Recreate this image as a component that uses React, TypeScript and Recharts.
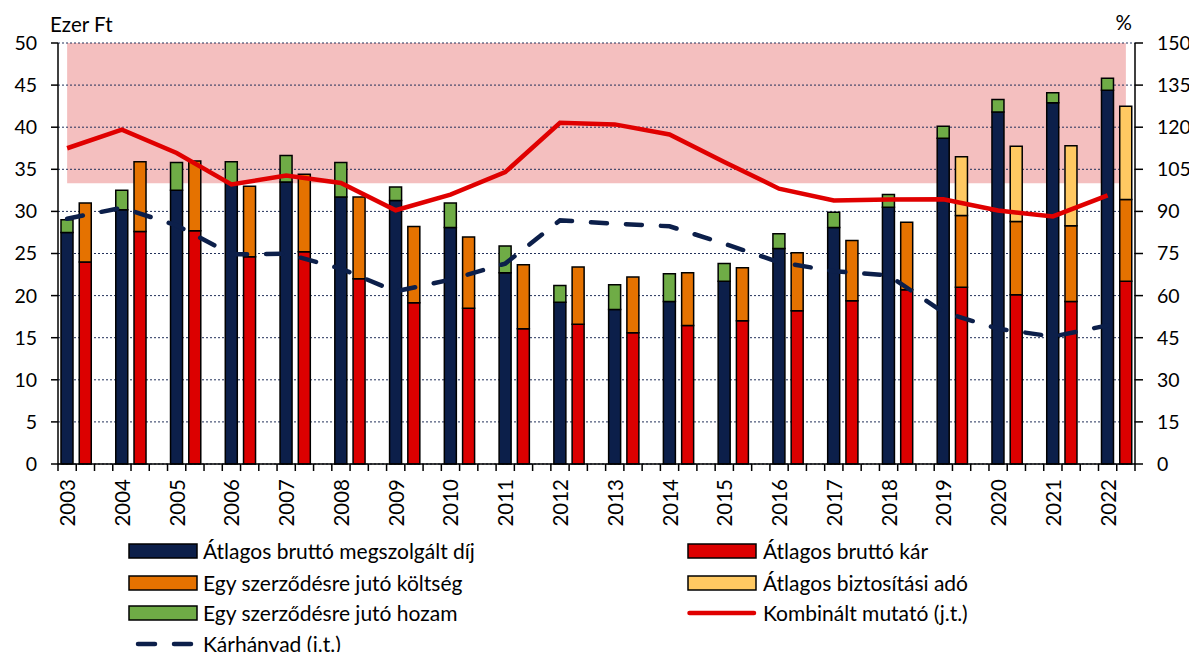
import React from 'react';
import { ComposedChart, Bar, Line, Area, XAxis, YAxis, CartesianGrid, Legend, Label } from 'recharts';

const years = ['2003','2004','2005','2006','2007','2008','2009','2010','2011','2012','2013','2014','2015','2016','2017','2018','2019','2020','2021','2022'];
// Ezer Ft (left axis)
const premium = [27.5, 30.2, 32.5, 33.4, 33.5, 31.7, 31.3, 28.1, 22.7, 19.2, 18.35, 19.3, 21.7, 25.6, 28.1, 30.5, 38.7, 41.8, 42.9, 44.4];
const yieldPer = [1.5, 2.3, 3.3, 2.5, 3.15, 4.1, 1.6, 2.9, 3.2, 2.0, 2.95, 3.3, 2.1, 1.75, 1.8, 1.5, 1.4, 1.5, 1.2, 1.4];
const claims = [24.0, 27.6, 27.7, 24.6, 25.2, 22.0, 19.15, 18.5, 16.05, 16.6, 15.6, 16.45, 17.0, 18.2, 19.4, 20.7, 21.0, 20.1, 19.3, 21.7];
const cost = [7.0, 8.3, 8.3, 8.4, 9.2, 9.7, 9.05, 8.45, 7.6, 6.8, 6.6, 6.25, 6.3, 6.9, 7.15, 8.0, 8.5, 8.7, 9.0, 9.7];
const tax = [0, 0, 0, 0, 0, 0, 0, 0, 0, 0, 0, 0, 0, 0, 0, 0, 7.0, 8.95, 9.5, 11.1];
// % (right axis)
const combined = [112.5, 119.1, 110.8, 99.6, 102.8, 100.1, 90.4, 96.0, 104.0, 121.6, 121.0, 117.4, 107.6, 98.1, 93.9, 94.2, 94.3, 90.3, 88.2, 95.7];
const lossRatio = [87.4, 91.3, 85.0, 74.7, 74.9, 69.6, 61.5, 65.7, 71.4, 86.8, 85.6, 84.7, 78.5, 71.9, 68.7, 67.2, 54.1, 48.2, 45.4, 49.4];
const bandRange = [100, 150];

const leftTicks = [0, 5, 10, 15, 20, 25, 30, 35, 40, 45, 50];
const rightTicks = [0, 15, 30, 45, 60, 75, 90, 105, 120, 135, 150];

const NAVY = '#0C1F4A';
const RED = '#DC0000';
const ORANGE = '#E57200';
const YELLOW = '#FFC962';
const GREEN = '#6FAC46';
const LINE_RED = '#E00000';
const PINK = '#F4BFBF';
const FONT = 'Lato, sans-serif';
const FS = 19.5;
const FS_X = 20.5;
const FS_LEG = 21;

const names = {
  premium: 'Átlagos bruttó megszolgált díj',
  claims: 'Átlagos bruttó kár',
  cost: 'Egy szerződésre jutó költség',
  tax: 'Átlagos biztosítási adó',
  yieldPer: 'Egy szerződésre jutó hozam',
  combined: 'Kombinált mutató (j.t.)',
  loss: 'Kárhányad (j.t.)',
};

type Row = { [k: string]: any };
const rows: Row[] = [];
years.forEach((y, i) => {
  rows.push({ key: y, label: y, premium: premium[i], yieldPer: yieldPer[i], claims: 0, cost: 0, tax: 0, combined: combined[i], loss: lossRatio[i], band: bandRange });
  rows.push({ key: y + 'b', label: '', premium: 0, yieldPer: 0, claims: claims[i], cost: cost[i], tax: tax[i], combined: null, loss: null, band: bandRange });
  if (i < years.length - 1) {
    rows.push({ key: y + 'c', label: '', premium: 0, yieldPer: 0, claims: 0, cost: 0, tax: 0, combined: null, loss: null, band: bandRange });
  }
});

const CHART_W = 1189;
const CHART_H = 644;
const LEFT_W = 50;
const RIGHT_W = 62;
const PLOT_W = CHART_W - LEFT_W - RIGHT_W;
const BAND = PLOT_W / rows.length;

const XTick = (props: any) => {
  const { x, y, payload } = props;
  const idx = payload?.index ?? props.index ?? 0;
  const half = BAND / 2;
  const row = rows[idx];
  const isLast = idx === rows.length - 1;
  return (
    <g>
      <line x1={x - half} x2={x - half} y1={y} y2={y + 7} stroke="#000" strokeWidth={1.5} />
      {isLast && <line x1={x + half} x2={x + half} y1={y} y2={y + 7} stroke="#000" strokeWidth={1.5} />}
      {row && row.label ? (
        <text
          transform={`translate(${x},${y + 15}) rotate(-90)`}
          textAnchor="end"
          dominantBaseline="central"
          fontFamily={FONT}
          fontSize={FS_X}
          fill="#000"
        >
          {row.label}
        </text>
      ) : null}
    </g>
  );
};

const legendItems = [
  { name: names.premium, color: NAVY, kind: 'rect', col: 0, row: 0 },
  { name: names.cost, color: ORANGE, kind: 'rect', col: 0, row: 1 },
  { name: names.yieldPer, color: GREEN, kind: 'rect', col: 0, row: 2 },
  { name: names.loss, color: NAVY, kind: 'dash', col: 0, row: 3 },
  { name: names.claims, color: RED, kind: 'rect', col: 1, row: 0 },
  { name: names.tax, color: YELLOW, kind: 'rect', col: 1, row: 1 },
  { name: names.combined, color: LINE_RED, kind: 'line', col: 1, row: 2 },
];

const LegendContent = () => {
  const colSwatch = [120, 679];
  const colText = [195, 755];
  const rowY = [10, 42, 72, 103];
  return (
    <div style={{ position: 'relative', width: CHART_W, height: 125 }}>
      {legendItems.map((it) => {
        const cy = rowY[it.row];
        return (
          <React.Fragment key={it.name}>
            <svg style={{ position: 'absolute', left: colSwatch[it.col], top: cy - 10 }} width={72} height={20}>
              {it.kind === 'rect' && (
                <rect x={1} y={3} width={68} height={14} fill={it.color} stroke="#000" strokeWidth={1.5} />
              )}
              {it.kind === 'line' && (
                <line x1={2.5} x2={67} y1={10} y2={10} stroke={it.color} strokeWidth={4.5} strokeLinecap="round" />
              )}
              {it.kind === 'dash' && (
                <>
                  <line x1={10} x2={27} y1={10} y2={10} stroke={it.color} strokeWidth={4.5} strokeLinecap="round" />
                  <line x1={46} x2={63} y1={10} y2={10} stroke={it.color} strokeWidth={4.5} strokeLinecap="round" />
                </>
              )}
            </svg>
            <div
              style={{
                position: 'absolute',
                left: colText[it.col],
                top: cy - 13,
                height: 26,
                lineHeight: '26px',
                fontFamily: FONT,
                fontSize: FS_LEG,
                color: '#000',
                whiteSpace: 'nowrap',
              }}
            >
              {it.name}
            </div>
          </React.Fragment>
        );
      })}
    </div>
  );
};

export default function App() {
  return (
    <div style={{ width: CHART_W, height: CHART_H, fontFamily: FONT }}>
      <ComposedChart
        width={CHART_W}
        height={CHART_H}
        data={rows}
        margin={{ top: 35, right: 0, left: 0, bottom: 128 }}
      >
        <Area
          yAxisId="right"
          xAxisId="x"
          type="linear"
          dataKey="band"
          stroke="none"
          fill={PINK}
          fillOpacity={1}
          isAnimationActive={false}
          legendType="none"
          zIndex={-200}
        />
        <CartesianGrid
          yAxisId="left"
          xAxisId="x"
          vertical={false}
          stroke="#22315A"
          strokeDasharray="2 2"
          strokeWidth={1}
        />
        <XAxis
          xAxisId="x"
          dataKey="key"
          type="category"
          interval={0}
          height={60}
          tickLine={false}
          tickSize={0}
          tickMargin={0}
          tick={<XTick />}
          axisLine={{ stroke: '#000', strokeWidth: 1.5 }}
        />
        <YAxis
          yAxisId="left"
          orientation="left"
          width={LEFT_W}
          domain={[0, 50]}
          ticks={leftTicks}
          interval={0}
          tickSize={7}
          tickMargin={14}
          tick={{ fill: '#000', fontSize: FS, fontFamily: FONT }}
          axisLine={{ stroke: '#000', strokeWidth: 1.5 }}
          tickLine={{ stroke: '#000', strokeWidth: 1.5 }}
        >
          <Label
            content={() => (
              <text x={42} y={24} fontFamily={FONT} fontSize={20.5} fill="#000">
                Ezer Ft
              </text>
            )}
          />
        </YAxis>
        <YAxis
          yAxisId="right"
          orientation="right"
          width={RIGHT_W}
          domain={[0, 150]}
          ticks={rightTicks}
          interval={0}
          tickSize={8}
          tickMargin={14}
          tick={{ fill: '#000', fontSize: FS, fontFamily: FONT, textAnchor: 'start' }}
          axisLine={{ stroke: '#000', strokeWidth: 1.5 }}
          tickLine={{ stroke: '#000', strokeWidth: 1.5 }}
        >
          <Label
            content={() => (
              <text x={1124} y={22} textAnchor="end" fontFamily={FONT} fontSize={20.5} fill="#000">
                %
              </text>
            )}
          />
        </YAxis>
        <Bar yAxisId="left" xAxisId="x" dataKey="premium" name={names.premium} stackId="s" fill={NAVY} stroke="#000" strokeWidth={1.5} barSize={12} isAnimationActive={false} />
        <Bar yAxisId="left" xAxisId="x" dataKey="yieldPer" name={names.yieldPer} stackId="s" fill={GREEN} stroke="#000" strokeWidth={1.5} barSize={12} isAnimationActive={false} />
        <Bar yAxisId="left" xAxisId="x" dataKey="claims" name={names.claims} stackId="s" fill={RED} stroke="#000" strokeWidth={1.5} barSize={12} isAnimationActive={false} />
        <Bar yAxisId="left" xAxisId="x" dataKey="cost" name={names.cost} stackId="s" fill={ORANGE} stroke="#000" strokeWidth={1.5} barSize={12} isAnimationActive={false} />
        <Bar yAxisId="left" xAxisId="x" dataKey="tax" name={names.tax} stackId="s" fill={YELLOW} stroke="#000" strokeWidth={1.5} barSize={12} isAnimationActive={false} />
        <Line yAxisId="right" xAxisId="x" dataKey="loss" name={names.loss} type="linear" stroke={NAVY} strokeWidth={4.5} strokeDasharray="16 19" strokeLinecap="round" dot={false} activeDot={false} connectNulls isAnimationActive={false} />
        <Line yAxisId="right" xAxisId="x" dataKey="combined" name={names.combined} type="linear" stroke={LINE_RED} strokeWidth={4.5} dot={false} activeDot={false} connectNulls isAnimationActive={false} />
        <Legend
          layout="horizontal"
          verticalAlign="middle"
          align="center"
          content={<LegendContent />}
          wrapperStyle={{ position: 'absolute', top: 533, left: 0, width: CHART_W, height: 125 }}
        />
      </ComposedChart>
    </div>
  );
}
